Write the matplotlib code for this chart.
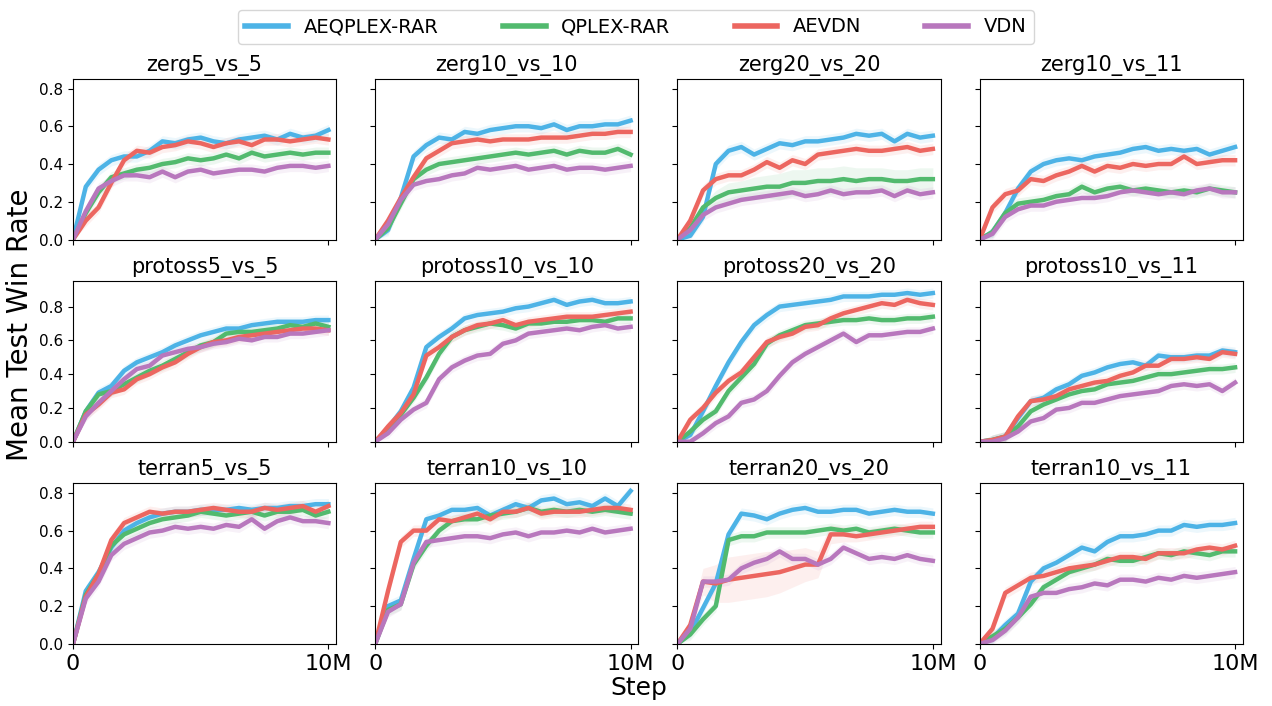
import numpy as np
import matplotlib
matplotlib.use('Agg')
import matplotlib.pyplot as plt

# training steps (every 0.5M)
steps = np.arange(0, 10.5, 0.5) * 1e6

algos = ['AEQPLEX-RAR', 'QPLEX-RAR', 'AEVDN', 'VDN']
colors = ['#4db3e6', '#52ba6e', '#ec6660', '#b877bd']

scenarios = ['zerg5_vs_5', 'zerg10_vs_10', 'zerg20_vs_20', 'zerg10_vs_11',
             'protoss5_vs_5', 'protoss10_vs_10', 'protoss20_vs_20', 'protoss10_vs_11',
             'terran5_vs_5', 'terran10_vs_10', 'terran20_vs_20', 'terran10_vs_11']

zerg5_vs_5 = {
    'AEQPLEX-RAR': [0, .28, .37, .42, .44, .44, .47, .52, .51, .53, .54, .52, .51, .53, .54, .55, .53, .56, .54, .55, .58],
    'QPLEX-RAR':   [0, .14, .25, .33, .35, .37, .38, .40, .41, .43, .42, .43, .45, .43, .46, .44, .45, .46, .45, .46, .46],
    'AEVDN':       [0, .10, .17, .30, .42, .47, .46, .49, .50, .52, .51, .49, .51, .52, .50, .53, .53, .52, .53, .54, .53],
    'VDN':         [0, .15, .27, .31, .34, .34, .33, .36, .33, .36, .37, .35, .36, .37, .37, .36, .38, .39, .39, .38, .39],
}
zerg10_vs_10 = {
    'AEQPLEX-RAR': [0, .05, .22, .44, .50, .54, .53, .57, .56, .58, .59, .60, .60, .59, .61, .58, .60, .60, .61, .61, .63],
    'QPLEX-RAR':   [0, .06, .19, .32, .37, .40, .41, .42, .43, .44, .45, .46, .45, .46, .47, .45, .47, .46, .46, .48, .45],
    'AEVDN':       [0, .10, .22, .33, .43, .47, .51, .52, .53, .52, .53, .53, .53, .54, .54, .54, .55, .56, .56, .57, .57],
    'VDN':         [0, .08, .21, .29, .31, .32, .34, .35, .38, .37, .38, .39, .37, .38, .39, .37, .38, .38, .37, .38, .39],
}
zerg20_vs_20 = {
    'AEQPLEX-RAR': [0, .02, .12, .40, .47, .49, .45, .48, .51, .50, .52, .52, .53, .54, .56, .55, .56, .52, .56, .54, .55],
    'QPLEX-RAR':   [0, .06, .17, .22, .25, .26, .27, .28, .28, .30, .30, .31, .31, .32, .31, .32, .32, .31, .31, .32, .32],
    'AEVDN':       [0, .10, .26, .32, .34, .34, .37, .41, .38, .42, .40, .45, .46, .47, .48, .47, .47, .48, .49, .47, .48],
    'VDN':         [0, .05, .13, .17, .19, .21, .22, .23, .24, .25, .23, .24, .26, .24, .25, .25, .26, .23, .26, .24, .25],
}
zerg10_vs_11 = {
    'AEQPLEX-RAR': [0, .04, .14, .27, .36, .40, .42, .43, .42, .44, .45, .46, .48, .49, .47, .48, .47, .48, .45, .47, .49],
    'QPLEX-RAR':   [0, .04, .14, .19, .20, .21, .23, .24, .28, .25, .27, .28, .26, .27, .26, .25, .26, .25, .27, .26, .25],
    'AEVDN':       [0, .17, .24, .26, .32, .31, .34, .36, .39, .36, .39, .38, .40, .39, .40, .40, .44, .40, .41, .42, .42],
    'VDN':         [0, .03, .12, .16, .18, .18, .20, .21, .22, .22, .23, .25, .26, .25, .24, .25, .24, .26, .27, .25, .25],
}
protoss5_vs_5 = {
    'AEQPLEX-RAR': [0, .18, .29, .33, .42, .47, .50, .53, .57, .60, .63, .65, .67, .67, .69, .70, .71, .71, .71, .72, .72],
    'QPLEX-RAR':   [0, .18, .28, .30, .34, .38, .42, .45, .49, .53, .57, .59, .64, .65, .65, .66, .67, .69, .68, .70, .68],
    'AEVDN':       [0, .16, .22, .29, .31, .37, .40, .44, .47, .52, .56, .59, .60, .62, .63, .64, .65, .66, .67, .67, .66],
    'VDN':         [0, .15, .23, .30, .37, .43, .45, .51, .53, .55, .56, .58, .59, .61, .60, .62, .62, .64, .64, .65, .66],
}
protoss10_vs_10 = {
    'AEQPLEX-RAR': [0, .08, .18, .32, .56, .62, .67, .73, .75, .76, .77, .79, .80, .82, .84, .81, .83, .84, .82, .82, .83],
    'QPLEX-RAR':   [0, .07, .16, .26, .38, .52, .62, .66, .68, .70, .69, .67, .70, .70, .71, .71, .72, .72, .71, .73, .73],
    'AEVDN':       [0, .09, .17, .28, .51, .56, .62, .66, .69, .70, .72, .69, .71, .72, .73, .74, .74, .74, .75, .76, .77],
    'VDN':         [0, .05, .13, .19, .23, .37, .44, .48, .51, .52, .58, .60, .64, .65, .66, .67, .66, .68, .69, .67, .68],
}
protoss20_vs_20 = {
    'AEQPLEX-RAR': [0, .04, .18, .33, .47, .59, .69, .75, .80, .81, .82, .83, .84, .86, .86, .86, .87, .87, .88, .87, .88],
    'QPLEX-RAR':   [0, .06, .13, .18, .30, .38, .46, .58, .63, .66, .69, .70, .71, .72, .72, .73, .72, .72, .73, .73, .74],
    'AEVDN':       [0, .13, .20, .29, .36, .41, .50, .59, .62, .64, .68, .69, .73, .76, .78, .80, .82, .81, .84, .82, .81],
    'VDN':         [0, .00, .05, .11, .15, .23, .25, .30, .39, .47, .52, .56, .60, .64, .59, .63, .63, .64, .65, .65, .67],
}
protoss10_vs_11 = {
    'AEQPLEX-RAR': [0, .01, .03, .14, .24, .26, .31, .34, .39, .41, .44, .46, .47, .45, .51, .50, .50, .51, .51, .54, .53],
    'QPLEX-RAR':   [0, .01, .03, .09, .18, .22, .25, .28, .30, .31, .34, .35, .36, .38, .40, .40, .41, .42, .43, .43, .44],
    'AEVDN':       [0, .01, .03, .15, .24, .25, .27, .31, .33, .35, .36, .39, .41, .45, .45, .49, .49, .50, .49, .53, .52],
    'VDN':         [0, .00, .02, .06, .12, .14, .19, .20, .23, .23, .25, .27, .28, .29, .30, .33, .34, .33, .34, .30, .35],
}
terran5_vs_5 = {
    'AEQPLEX-RAR': [0, .28, .38, .51, .60, .64, .67, .69, .70, .70, .71, .71, .71, .72, .71, .72, .72, .73, .73, .74, .74],
    'QPLEX-RAR':   [0, .26, .37, .52, .58, .61, .64, .66, .67, .68, .70, .69, .68, .69, .70, .68, .70, .70, .71, .68, .70],
    'AEVDN':       [0, .25, .37, .55, .64, .67, .70, .69, .70, .70, .71, .72, .71, .70, .70, .72, .71, .72, .73, .70, .73],
    'VDN':         [0, .24, .33, .47, .53, .56, .59, .60, .62, .61, .62, .61, .63, .62, .66, .61, .65, .67, .65, .65, .64],
}
terran10_vs_10 = {
    'AEQPLEX-RAR': [0, .20, .23, .45, .66, .68, .71, .71, .72, .68, .71, .74, .72, .76, .77, .74, .75, .73, .77, .73, .81],
    'QPLEX-RAR':   [0, .18, .21, .42, .52, .60, .65, .66, .66, .68, .69, .70, .72, .70, .71, .70, .71, .70, .71, .70, .69],
    'AEVDN':       [0, .28, .54, .60, .60, .66, .65, .67, .69, .66, .70, .70, .72, .69, .70, .70, .70, .71, .72, .72, .71],
    'VDN':         [0, .17, .21, .43, .54, .55, .56, .57, .57, .56, .58, .59, .57, .59, .59, .60, .59, .61, .59, .60, .61],
}
terran20_vs_20 = {
    'AEQPLEX-RAR': [0, .06, .19, .32, .58, .69, .68, .66, .69, .71, .72, .70, .70, .71, .71, .69, .70, .71, .70, .70, .69],
    'QPLEX-RAR':   [0, .05, .13, .20, .55, .57, .57, .59, .59, .59, .59, .60, .61, .60, .61, .59, .60, .61, .60, .59, .59],
    'AEVDN':       [0, .10, .33, .32, .34, .35, .36, .37, .38, .40, .42, .42, .58, .58, .57, .58, .59, .60, .61, .62, .62],
    'VDN':         [0, .08, .33, .33, .34, .40, .43, .45, .49, .45, .45, .42, .45, .51, .48, .45, .46, .45, .47, .45, .44],
}
terran10_vs_11 = {
    'AEQPLEX-RAR': [0, .03, .10, .16, .33, .40, .43, .47, .51, .49, .54, .57, .57, .58, .60, .60, .63, .62, .63, .63, .64],
    'QPLEX-RAR':   [0, .04, .08, .14, .21, .30, .34, .38, .40, .42, .45, .44, .44, .46, .48, .47, .49, .48, .47, .49, .49],
    'AEVDN':       [0, .08, .27, .31, .35, .36, .38, .40, .41, .42, .44, .46, .46, .45, .48, .48, .48, .50, .51, .50, .52],
    'VDN':         [0, .02, .07, .14, .25, .27, .27, .29, .30, .32, .31, .34, .34, .33, .35, .34, .36, .35, .36, .37, .38],
}

# shaded spread (half width); wider bands where the reference shows them
default_spread = 0.03
terran20_aevdn_spread = [0, .03, .07, .10, .12, .12, .12, .12, .11, .10, .09, .07, .05, .04, .03, .03, .03, .03, .03, .03, .03]
zerg20_qplex_spread = [0, .01, .02, .04, .05, .05, .06, .06, .07, .07, .07, .07, .07, .07, .07, .06, .06, .06, .06, .06, .06]

all_data = [zerg5_vs_5, zerg10_vs_10, zerg20_vs_20, zerg10_vs_11,
            protoss5_vs_5, protoss10_vs_10, protoss20_vs_20, protoss10_vs_11,
            terran5_vs_5, terran10_vs_10, terran20_vs_20, terran10_vs_11]
row_ymax = [0.85, 0.95, 0.85]

fig, axes = plt.subplots(3, 4, figsize=(12.72, 7.06), dpi=100, sharex=True, sharey='row')
fig.subplots_adjust(left=0.0574, right=0.977, top=0.888, bottom=0.088, wspace=0.149, hspace=0.26)

for k, (name, data) in enumerate(zip(scenarios, all_data)):
    ax = axes[k // 4][k % 4]
    for algo, c in zip(algos, colors):
        y = np.array(data[algo])
        s = np.full_like(y, default_spread)
        if name == 'terran20_vs_20' and algo == 'AEVDN':
            s = np.array(terran20_aevdn_spread)
        if name == 'zerg20_vs_20' and algo == 'QPLEX-RAR':
            s = np.array(zerg20_qplex_spread)
        s[0] = 0
        ax.fill_between(steps, np.clip(y - s, 0, None), y + s, color=c, alpha=0.1, lw=0)
        ax.plot(steps, y, color=c, lw=3.2, label=algo)
    ax.set_title(name, fontsize=15)
    ax.set_xlim(0, 10.3e6)
    ax.set_ylim(0, row_ymax[k // 4])
    ax.set_yticks([0, 0.2, 0.4, 0.6, 0.8])
    ax.set_xticks([0, 1e7])
    ax.set_xticklabels(['0', '10M'])
    ax.tick_params(axis='y', labelsize=11)
    ax.tick_params(axis='x', labelsize=16)

handles, labels = axes[0][0].get_legend_handles_labels()
fig.legend(handles, labels, loc='upper center', bbox_to_anchor=(0.5, 1.0), ncol=4,
           fontsize=14, handlelength=2.2, columnspacing=3.3, borderpad=0.4)
for line in fig.legends[0].get_lines():
    line.set_linewidth(4)

fig.text(0.016, 0.54, 'Mean Test Win Rate', rotation=90, ha='center', va='center', fontsize=20)
fig.text(0.502, 0.025, 'Step', ha='center', va='center', fontsize=18)

plt.savefig('out.png', dpi=100)
plt.close()
